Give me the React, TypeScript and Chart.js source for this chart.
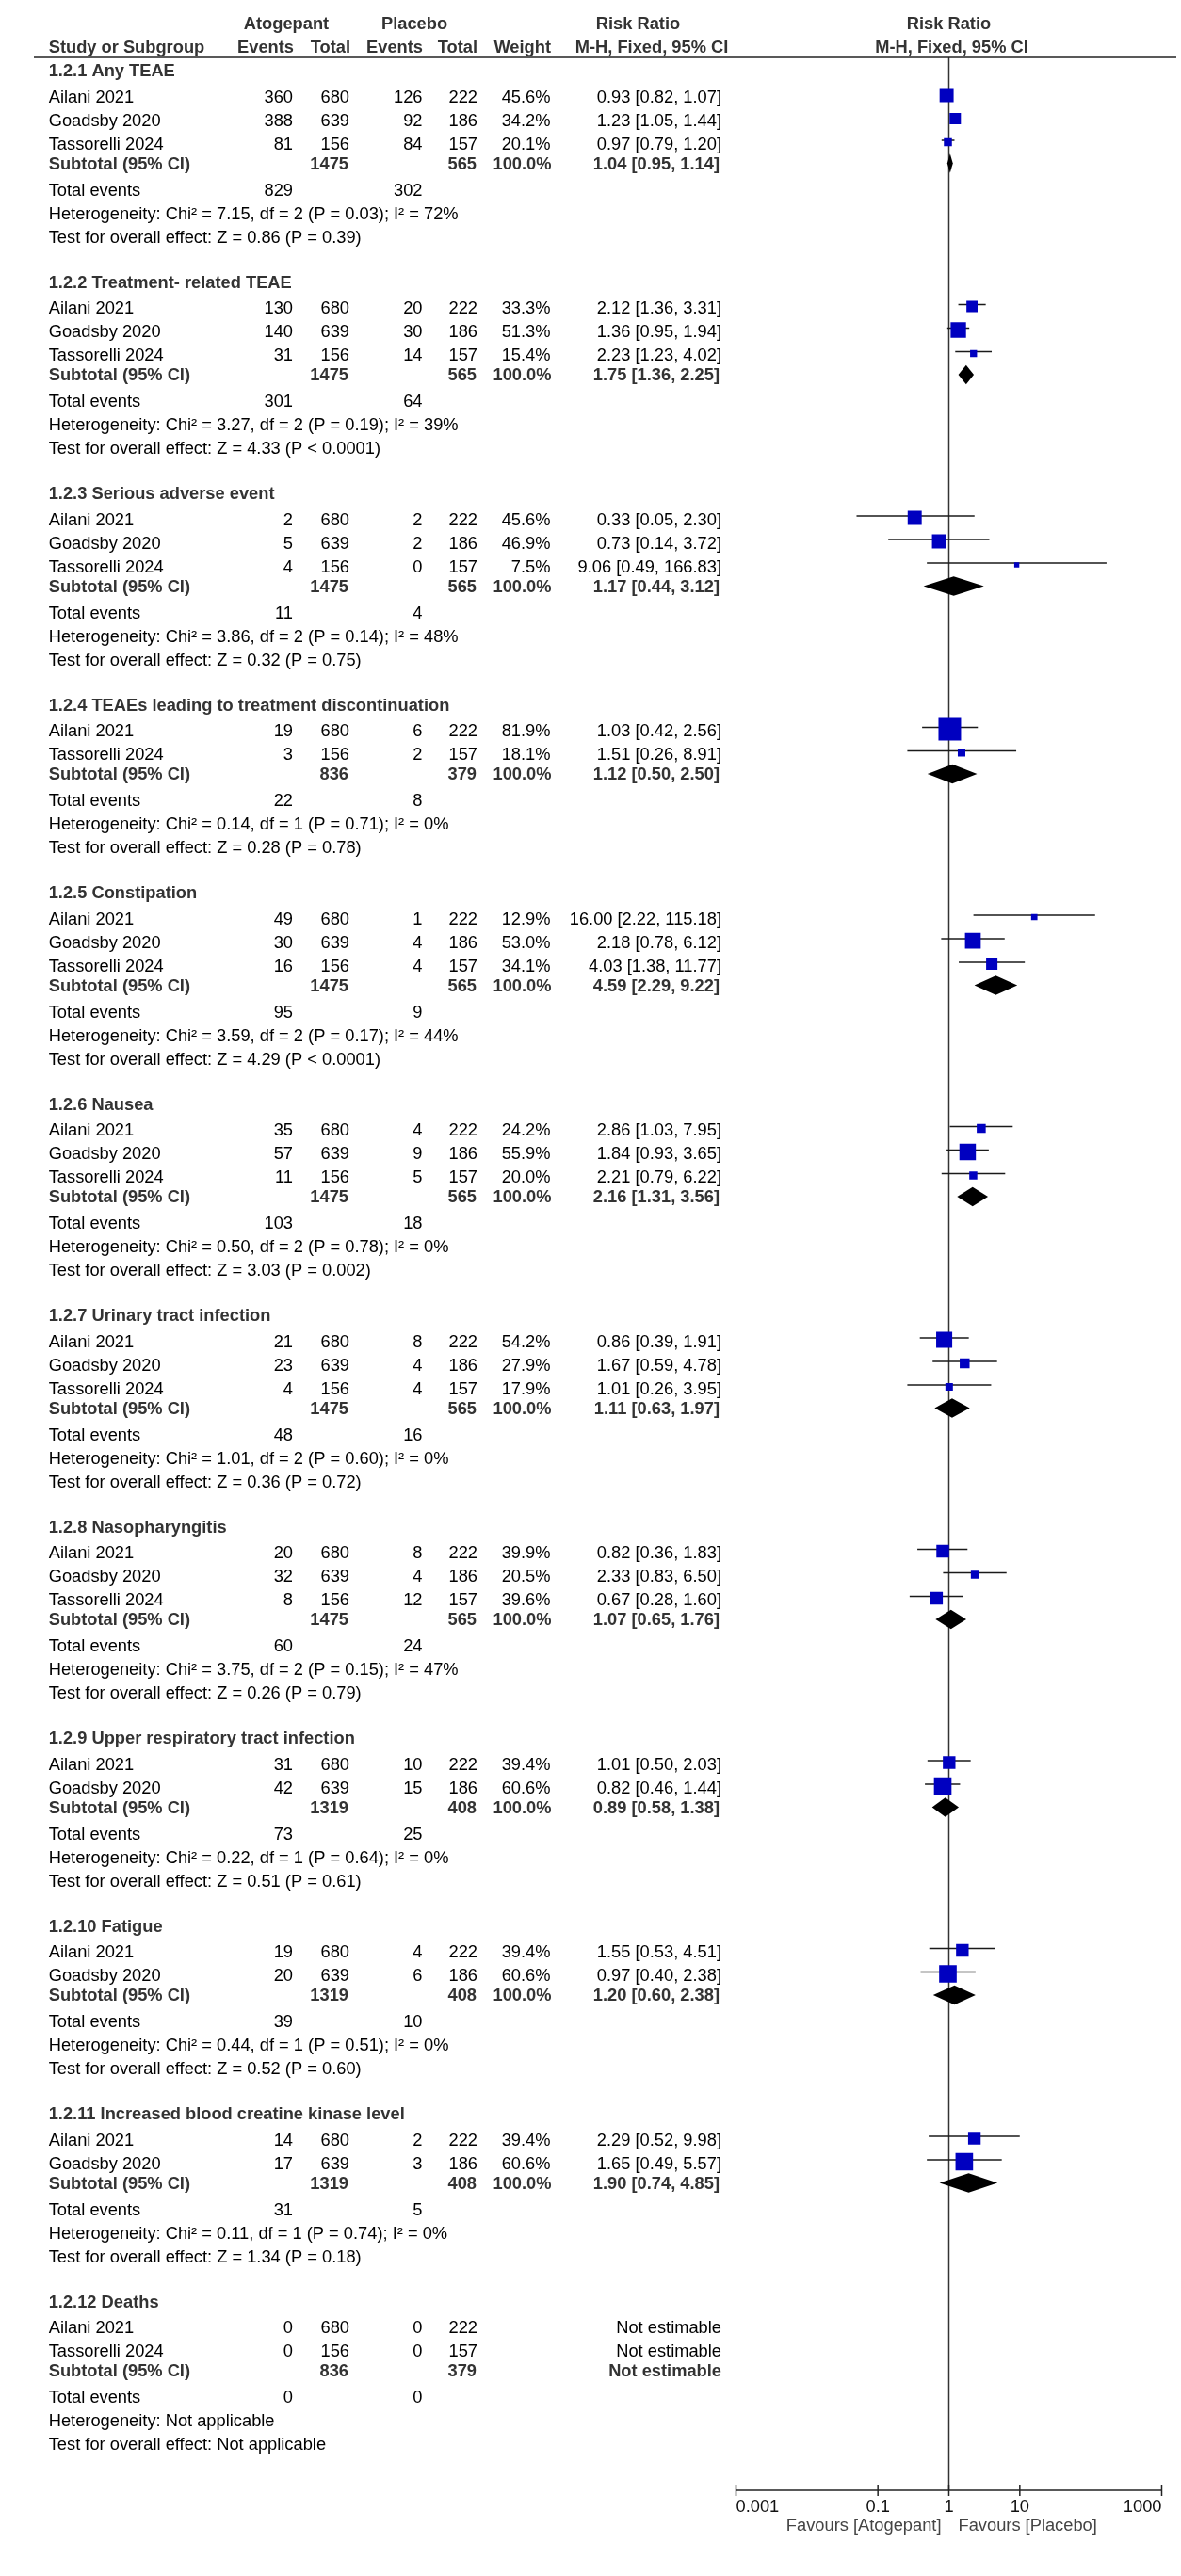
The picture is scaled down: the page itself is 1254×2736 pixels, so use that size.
import React, { useEffect, useRef } from 'react';
import { Chart, registerables } from 'chart.js';

Chart.register(...registerables);

// ---------------- DATA ----------------
const sectionTitles = [
  '1.2.1 Any TEAE',
  '1.2.2 Treatment- related TEAE',
  '1.2.3 Serious adverse event',
  '1.2.4 TEAEs leading to treatment discontinuation',
  '1.2.5 Constipation',
  '1.2.6 Nausea',
  '1.2.7 Urinary tract infection',
  '1.2.8 Nasopharyngitis',
  '1.2.9 Upper respiratory tract infection',
  '1.2.10 Fatigue',
  '1.2.11 Increased blood creatine kinase level',
  '1.2.12 Deaths',
];
const A = 'Ailani 2021';
const G = 'Goadsby 2020';
const T = 'Tassorelli 2024';
const studyNames = [[A, G, T], [A, G, T], [A, G, T], [A, T], [A, G, T], [A, G, T], [A, G, T], [A, G, T], [A, G], [A, G], [A, G], [A, T]];
const atoEvents = [[360, 388, 81], [130, 140, 31], [2, 5, 4], [19, 3], [49, 30, 16], [35, 57, 11], [21, 23, 4], [20, 32, 8], [31, 42], [19, 20], [14, 17], [0, 0]];
const atoTotals = [[680, 639, 156], [680, 639, 156], [680, 639, 156], [680, 156], [680, 639, 156], [680, 639, 156], [680, 639, 156], [680, 639, 156], [680, 639], [680, 639], [680, 639], [680, 156]];
const plaEvents = [[126, 92, 84], [20, 30, 14], [2, 2, 0], [6, 2], [1, 4, 4], [4, 9, 5], [8, 4, 4], [8, 4, 12], [10, 15], [4, 6], [2, 3], [0, 0]];
const plaTotals = [[222, 186, 157], [222, 186, 157], [222, 186, 157], [222, 157], [222, 186, 157], [222, 186, 157], [222, 186, 157], [222, 186, 157], [222, 186], [222, 186], [222, 186], [222, 157]];
const weights = [[45.6, 34.2, 20.1], [33.3, 51.3, 15.4], [45.6, 46.9, 7.5], [81.9, 18.1], [12.9, 53.0, 34.1], [24.2, 55.9, 20.0], [54.2, 27.9, 17.9], [39.9, 20.5, 39.6], [39.4, 60.6], [39.4, 60.6], [39.4, 60.6], [null, null]];
const rrEst = [[0.93, 1.23, 0.97], [2.12, 1.36, 2.23], [0.33, 0.73, 9.06], [1.03, 1.51], [16.0, 2.18, 4.03], [2.86, 1.84, 2.21], [0.86, 1.67, 1.01], [0.82, 2.33, 0.67], [1.01, 0.82], [1.55, 0.97], [2.29, 1.65], [null, null]];
const rrLow = [[0.82, 1.05, 0.79], [1.36, 0.95, 1.23], [0.05, 0.14, 0.49], [0.42, 0.26], [2.22, 0.78, 1.38], [1.03, 0.93, 0.79], [0.39, 0.59, 0.26], [0.36, 0.83, 0.28], [0.5, 0.46], [0.53, 0.4], [0.52, 0.49], [null, null]];
const rrHigh = [[1.07, 1.44, 1.2], [3.31, 1.94, 4.02], [2.3, 3.72, 166.83], [2.56, 8.91], [115.18, 6.12, 11.77], [7.95, 3.65, 6.22], [1.91, 4.78, 3.95], [1.83, 6.5, 1.6], [2.03, 1.44], [4.51, 2.38], [9.98, 5.57], [null, null]];
const subAtoTotals = [1475, 1475, 1475, 836, 1475, 1475, 1475, 1475, 1319, 1319, 1319, 836];
const subPlaTotals = [565, 565, 565, 379, 565, 565, 565, 565, 408, 408, 408, 379];
const subWeights = [100, 100, 100, 100, 100, 100, 100, 100, 100, 100, 100, null];
const subEst = [1.04, 1.75, 1.17, 1.12, 4.59, 2.16, 1.11, 1.07, 0.89, 1.2, 1.9, null];
const subLow = [0.95, 1.36, 0.44, 0.5, 2.29, 1.31, 0.63, 0.65, 0.58, 0.6, 0.74, null];
const subHigh = [1.14, 2.25, 3.12, 2.5, 9.22, 3.56, 1.97, 1.76, 1.38, 2.38, 4.85, null];
const totAtoEvents = [829, 301, 11, 22, 95, 103, 48, 60, 73, 39, 31, 0];
const totPlaEvents = [302, 64, 4, 8, 9, 18, 16, 24, 25, 10, 5, 0];
const heterogeneity = [
  'Chi² = 7.15, df = 2 (P = 0.03); I² = 72%',
  'Chi² = 3.27, df = 2 (P = 0.19); I² = 39%',
  'Chi² = 3.86, df = 2 (P = 0.14); I² = 48%',
  'Chi² = 0.14, df = 1 (P = 0.71); I² = 0%',
  'Chi² = 3.59, df = 2 (P = 0.17); I² = 44%',
  'Chi² = 0.50, df = 2 (P = 0.78); I² = 0%',
  'Chi² = 1.01, df = 2 (P = 0.60); I² = 0%',
  'Chi² = 3.75, df = 2 (P = 0.15); I² = 47%',
  'Chi² = 0.22, df = 1 (P = 0.64); I² = 0%',
  'Chi² = 0.44, df = 1 (P = 0.51); I² = 0%',
  'Chi² = 0.11, df = 1 (P = 0.74); I² = 0%',
  'Not applicable',
];
const overallEffect = [
  'Z = 0.86 (P = 0.39)',
  'Z = 4.33 (P < 0.0001)',
  'Z = 0.32 (P = 0.75)',
  'Z = 0.28 (P = 0.78)',
  'Z = 4.29 (P < 0.0001)',
  'Z = 3.03 (P = 0.002)',
  'Z = 0.36 (P = 0.72)',
  'Z = 0.26 (P = 0.79)',
  'Z = 0.51 (P = 0.61)',
  'Z = 0.52 (P = 0.60)',
  'Z = 1.34 (P = 0.18)',
  'Not applicable',
];
const axisTicks = [0.001, 0.1, 1, 10, 1000];
const favourLeft = 'Favours [Atogepant]';
const favourRight = 'Favours [Placebo]';

// ---------------- LAYOUT ----------------
const W = 1254;
const H = 2736;
const TOP = 61;
const AXIS_Y = 2645;
const PLOT_LEFT = 781.5;
const PLOT_RIGHT = 1233.5;
const FONT = '"Liberation Sans", Arial, Helvetica, sans-serif';
const FS = 18.3;
const COL = { label: 51.7, aEv: 311, aTot: 371, pEv: 448.5, pTot: 507, wt: 584.5, ci: 766 };
const BOLD_COLOR = '#333333';
const TEXT_COLOR = '#000000';
const SQUARE_COLOR = '#0000C0';

type Row = { kind: string; s: number; i: number; y: number };

function buildRows(): Row[] {
  const rows: Row[] = [];
  let y = 76;
  sectionTitles.forEach((_, s) => {
    rows.push({ kind: 'header', s, i: -1, y });
    y += 27.5;
    studyNames[s].forEach((__, i) => {
      if (i > 0) y += 25;
      rows.push({ kind: 'study', s, i, y });
    });
    y += 21;
    rows.push({ kind: 'subtotal', s, i: -1, y });
    y += 28;
    rows.push({ kind: 'total', s, i: -1, y });
    y += 25;
    rows.push({ kind: 'het', s, i: -1, y });
    y += 25;
    rows.push({ kind: 'test', s, i: -1, y });
    y += 48;
  });
  return rows;
}

const fmtCI = (e: number, l: number, h: number) => `${e.toFixed(2)} [${l.toFixed(2)}, ${h.toFixed(2)}]`;

function drawText(ctx: CanvasRenderingContext2D, s: string, x: number, y: number, align: CanvasTextAlign, bold = false, color?: string) {
  ctx.font = `${bold ? 'bold ' : ''}${FS}px ${FONT}`;
  ctx.fillStyle = color || (bold ? BOLD_COLOR : TEXT_COLOR);
  ctx.textAlign = align;
  ctx.textBaseline = 'middle';
  ctx.fillText(s, x, y);
}

export default function App() {
  const ref = useRef<HTMLCanvasElement | null>(null);

  useEffect(() => {
    const canvas = ref.current;
    if (!canvas) return;
    const rows = buildRows();
    const studyRows = rows.filter((r) => r.kind === 'study' && rrEst[r.s][r.i] != null);

    const squares = studyRows.map((r) => ({ x: rrEst[r.s][r.i] as number, y: r.y - 2.5, w: weights[r.s][r.i] as number }));
    const whiskerSets = studyRows.map((r) => ({
      type: 'line' as const,
      data: [
        { x: rrLow[r.s][r.i] as number, y: r.y - 4.5 },
        { x: rrHigh[r.s][r.i] as number, y: r.y - 4.5 },
      ],
      borderColor: '#1a1a1a',
      borderWidth: 1.5,
      pointRadius: 0,
      fill: false,
    }));

    const tablePlugin = {
      id: 'forestTable',
      afterDraw(chart: any) {
        const ctx: CanvasRenderingContext2D = chart.ctx;
        const xs = chart.scales.x;
        const ys = chart.scales.y;
        const x1 = xs.getPixelForValue(1);
        ctx.save();

        // Column headers
        drawText(ctx, 'Atogepant', 304, 26, 'center', true);
        drawText(ctx, 'Placebo', 440, 26, 'center', true);
        drawText(ctx, 'Risk Ratio', 677.5, 26, 'center', true);
        drawText(ctx, 'Risk Ratio', x1, 26, 'center', true);
        drawText(ctx, 'Study or Subgroup', COL.label, 51, 'left', true);
        drawText(ctx, 'Events', COL.aEv + 1, 51, 'right', true);
        drawText(ctx, 'Total', COL.aTot + 1, 51, 'right', true);
        drawText(ctx, 'Events', COL.pEv + 0.5, 51, 'right', true);
        drawText(ctx, 'Total', COL.pTot, 51, 'right', true);
        drawText(ctx, 'Weight', COL.wt + 0.5, 51, 'right', true);
        drawText(ctx, 'M-H, Fixed, 95% CI', 692, 51, 'center', true);
        drawText(ctx, 'M-H, Fixed, 95% CI', x1 + 3, 51, 'center', true);

        // header rule
        ctx.strokeStyle = '#222';
        ctx.lineWidth = 1.7;
        ctx.beginPath();
        ctx.moveTo(36, TOP);
        ctx.lineTo(1249, TOP);
        ctx.stroke();

        // rows
        rows.forEach((r) => {
          const y = ys.getPixelForValue(r.y);
          const s = r.s;
          if (r.kind === 'header') {
            drawText(ctx, sectionTitles[s], COL.label, y, 'left', true);
          } else if (r.kind === 'study') {
            const i = r.i;
            drawText(ctx, studyNames[s][i], COL.label, y, 'left');
            drawText(ctx, String(atoEvents[s][i]), COL.aEv, y, 'right');
            drawText(ctx, String(atoTotals[s][i]), COL.aTot, y, 'right');
            drawText(ctx, String(plaEvents[s][i]), COL.pEv, y, 'right');
            drawText(ctx, String(plaTotals[s][i]), COL.pTot, y, 'right');
            const w = weights[s][i];
            if (w != null) drawText(ctx, `${w.toFixed(1)}%`, COL.wt, y, 'right');
            const e = rrEst[s][i];
            if (e != null) {
              drawText(ctx, fmtCI(e, rrLow[s][i] as number, rrHigh[s][i] as number), COL.ci, y, 'right');
            } else {
              drawText(ctx, 'Not estimable', COL.ci, y, 'right');
            }
          } else if (r.kind === 'subtotal') {
            drawText(ctx, 'Subtotal (95% CI)', COL.label, y, 'left', true);
            drawText(ctx, String(subAtoTotals[s]), COL.aTot - 1, y, 'right', true);
            drawText(ctx, String(subPlaTotals[s]), COL.pTot - 1, y, 'right', true);
            const sw = subWeights[s];
            if (sw != null) drawText(ctx, `${sw.toFixed(1)}%`, COL.wt + 1, y, 'right', true);
            const e = subEst[s];
            if (e != null) {
              drawText(ctx, fmtCI(e, subLow[s] as number, subHigh[s] as number), COL.ci - 2, y, 'right', true);
              // diamond
              const yc = ys.getPixelForValue(r.y - 1);
              const xl = xs.getPixelForValue(subLow[s] as number);
              const xe = xs.getPixelForValue(e);
              const xh = xs.getPixelForValue(subHigh[s] as number);
              ctx.fillStyle = '#000';
              ctx.beginPath();
              ctx.moveTo(xl, yc);
              ctx.lineTo(xe, yc - 10.3);
              ctx.lineTo(xh, yc);
              ctx.lineTo(xe, yc + 10.3);
              ctx.closePath();
              ctx.fill();
            } else {
              drawText(ctx, 'Not estimable', COL.ci, y, 'right', true);
            }
          } else if (r.kind === 'total') {
            drawText(ctx, 'Total events', COL.label, y, 'left');
            drawText(ctx, String(totAtoEvents[s]), COL.aEv, y, 'right');
            drawText(ctx, String(totPlaEvents[s]), COL.pEv, y, 'right');
          } else if (r.kind === 'het') {
            drawText(ctx, `Heterogeneity: ${heterogeneity[s]}`, COL.label, y, 'left');
          } else if (r.kind === 'test') {
            drawText(ctx, `Test for overall effect: ${overallEffect[s]}`, COL.label, y, 'left');
          }
        });

        // x axis
        const ay = chart.chartArea.bottom;
        const xa = xs.getPixelForValue(axisTicks[0]);
        const xb = xs.getPixelForValue(axisTicks[axisTicks.length - 1]);
        ctx.strokeStyle = '#222';
        ctx.lineWidth = 1.5;
        ctx.beginPath();
        ctx.moveTo(xa, ay);
        ctx.lineTo(xb, ay);
        ctx.stroke();
        axisTicks.forEach((t, k) => {
          const px = xs.getPixelForValue(t);
          ctx.beginPath();
          ctx.moveTo(px, ay - 6);
          ctx.lineTo(px, ay + 6);
          ctx.stroke();
          const align: CanvasTextAlign = k === 0 ? 'left' : k === axisTicks.length - 1 ? 'right' : 'center';
          drawText(ctx, String(t), px, ay + 18, align, false, '#111');
        });
        drawText(ctx, favourLeft, x1 - 8, ay + 38, 'right', false, '#444');
        drawText(ctx, favourRight, x1 + 10, ay + 38, 'left', false, '#444');

        ctx.restore();
      },
    };

    const chart = new Chart(canvas, {
      type: 'scatter',
      data: {
        datasets: [
          {
            type: 'scatter',
            data: squares as any,
            pointStyle: 'rect',
            pointRadius: (c: any) => (c.raw ? (3.5 + 0.25 * c.raw.w) / Math.SQRT2 : 0),
            pointHoverRadius: (c: any) => (c.raw ? (3.5 + 0.25 * c.raw.w) / Math.SQRT2 : 0),
            backgroundColor: SQUARE_COLOR,
            borderWidth: 0,
          } as any,
          ...(whiskerSets as any[]),
          {
            type: 'line',
            data: [
              { x: 1, y: TOP },
              { x: 1, y: AXIS_Y },
            ],
            borderColor: '#333',
            borderWidth: 1.5,
            pointRadius: 0,
            fill: false,
          } as any,
        ],
      },
      options: {
        animation: false,
        responsive: false,
        maintainAspectRatio: false,
        devicePixelRatio: 1,
        events: [],
        layout: {
          padding: { left: PLOT_LEFT, right: W - PLOT_RIGHT, top: TOP, bottom: H - AXIS_Y },
        },
        plugins: { legend: { display: false }, tooltip: { enabled: false } },
        scales: {
          x: { type: 'logarithmic', min: axisTicks[0], max: axisTicks[axisTicks.length - 1], display: false, bounds: 'data' } as any,
          y: { type: 'linear', min: TOP, max: AXIS_Y, reverse: true, display: false, bounds: 'data' } as any,
        },
      },
      plugins: [tablePlugin],
    });
    return () => chart.destroy();
  }, []);

  return (
    <div style={{ position: 'absolute', left: 0, top: 0, width: W, height: H, background: '#fff' }}>
      <canvas ref={ref} width={W} height={H} style={{ display: 'block', width: W, height: H }} />
    </div>
  );
}
